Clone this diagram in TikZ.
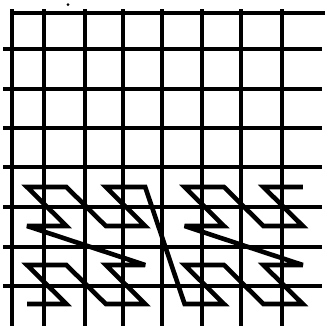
\documentclass[tikz,border=0pt]{standalone}
\begin{document}
\begin{tikzpicture}[x=1bp,y=-1bp,
  gridline/.style={line width=4.2bp,black},
  zcurve/.style={line width=4.6bp,black,line join=miter,miter limit=3}]
\useasboundingbox (0,0) rectangle (325,326);
\fill[white] (0,0) rectangle (325,326);
% vertical grid lines
\foreach \x in {12,44,85,123,162,202,241,282}
  \draw[gridline] (\x,9) -- (\x,326);
% horizontal grid lines
\draw[gridline] (10,13) -- (325,13);
\foreach \y in {49,89,128,167,207,247,286}
  \draw[gridline] (3,\y) -- (322,\y);
% small speck
\fill (68,4.5) circle (1.5);
% curve points
\foreach \i in {0,...,7}
  \foreach \j in {0,...,3}
    \coordinate (p\i\j) at ({27+39.4*\i},{304-39*\j});
\draw[zcurve] (p00)--(p10)--(p01)--(p11)--(p20)--(p30)--(p21)--(p31)
  --(p02)--(p12)--(p03)--(p13)--(p22)--(p32)--(p23)--(p33)
  --(p40)--(p50)--(p41)--(p51)--(p60)--(p70)--(p61)--(p71)
  --(p42)--(p52)--(p43)--(p53)--(p62)--(p72)--(p63)--(p73);
\end{tikzpicture}
\end{document}
